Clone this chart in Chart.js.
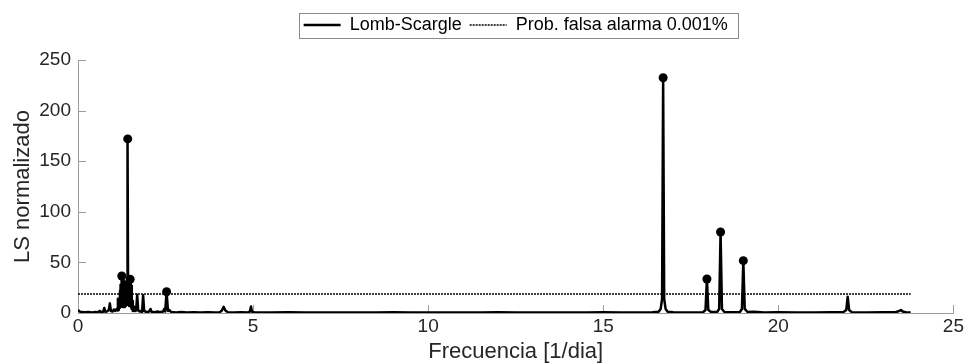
<!DOCTYPE html>
<html>
<head>
<meta charset="utf-8">
<script src="https://cdn.jsdelivr.net/npm/chart.js@4/dist/chart.umd.min.js"></script>
<style>
  html, body { margin: 0; padding: 0; background: #fff; }
  canvas { display: block; }
</style>
</head>
<body>
<canvas id="chart" width="966" height="363"></canvas>
<script>
// Normalised Lomb-Scargle periodogram (frequency in 1/dia)
const freq = [
  0.00, 0.04, 0.10, 0.20, 0.30, 0.40, 0.50, 0.58, 0.62, 0.66,
  0.72, 0.75, 0.78, 0.84, 0.88, 0.91, 0.94, 0.99, 1.02, 1.06,
  1.10, 1.13, 1.14, 1.15, 1.16, 1.17, 1.18, 1.19, 1.20, 1.21,
  1.22, 1.23, 1.24, 1.25, 1.26, 1.27, 1.28, 1.29, 1.30, 1.31,
  1.32, 1.33, 1.34, 1.35, 1.36, 1.37, 1.38, 1.39, 1.40, 1.41,
  1.42, 1.43, 1.44, 1.45, 1.46, 1.47, 1.48, 1.49, 1.50, 1.51,
  1.52, 1.53, 1.54, 1.55, 1.56, 1.57, 1.60, 1.62, 1.66, 1.69,
  1.72, 1.76, 1.80, 1.83, 1.86, 1.89, 1.94, 2.00, 2.04, 2.07,
  2.10, 2.18, 2.28, 2.34, 2.43, 2.46, 2.49, 2.53, 2.57, 2.61,
  2.66, 2.80, 2.95, 3.10, 3.30, 3.50, 3.70, 3.90, 4.05, 4.11,
  4.16, 4.21, 4.28, 4.45, 4.65, 4.85, 4.91, 4.94, 4.97, 5.05,
  5.50, 6.00, 6.50, 7.00, 7.50, 8.00, 8.50, 9.00, 9.50, 10.00,
  10.50, 11.00, 11.50, 12.00, 12.50, 13.00, 13.50, 14.00, 14.50, 15.00,
  15.50, 16.00, 16.40, 16.58, 16.64, 16.68, 16.71, 16.74, 16.78, 16.84,
  17.00, 17.40, 17.85, 17.92, 17.96, 18.00, 18.08, 18.25, 18.31, 18.35,
  18.39, 18.46, 18.70, 18.90, 18.96, 19.00, 19.04, 19.12, 19.30, 19.60,
  20.00, 20.50, 21.00, 21.50, 21.85, 21.94, 21.98, 22.02, 22.10, 22.50,
  23.00, 23.35, 23.45, 23.50, 23.55, 23.65, 23.78
];
const power = [
  3.0, 1.6, 0.9, 0.7, 0.9, 0.6, 1.0, 0.8, 2.2, 0.8,
  1.2, 5.0, 1.2, 1.8, 3.0, 9.5, 2.0, 1.5, 3.5, 2.0,
  4.0, 2.5, 14.0, 3.0, 13.0, 4.0, 14.0, 5.0, 22.0, 6.0,
  28.0, 8.0, 30.0, 36.6, 7.0, 31.0, 6.0, 30.0, 8.0, 32.0,
  6.0, 30.0, 9.0, 31.0, 7.0, 30.0, 8.0, 29.0, 10.0, 26.0,
  172.0, 24.0, 8.0, 30.0, 7.0, 31.0, 9.0, 33.3, 8.0, 29.0,
  6.0, 27.0, 4.0, 12.0, 3.0, 2.0, 6.0, 2.0, 2.5, 18.0,
  2.5, 1.5, 2.0, 1.0, 17.5, 2.0, 1.2, 0.8, 2.0, 4.0,
  1.2, 0.8, 1.5, 0.7, 1.5, 4.0, 1.5, 21.0, 2.0, 3.0,
  1.0, 0.6, 0.9, 0.5, 0.8, 0.5, 0.7, 0.6, 0.8, 2.5,
  6.0, 2.5, 0.8, 0.5, 0.7, 0.6, 1.5, 6.5, 1.2, 0.6,
  0.5, 0.7, 0.4, 0.6, 0.5, 0.6, 0.4, 0.7, 0.5, 0.6,
  0.4, 0.6, 0.5, 0.7, 0.4, 0.6, 0.5, 0.6, 0.5, 0.7,
  0.5, 0.6, 0.8, 1.2, 4.0, 14.0, 232.5, 14.0, 4.0, 1.2,
  0.8, 0.6, 0.8, 3.0, 33.6, 3.0, 1.0, 1.0, 4.0, 80.0,
  4.0, 1.0, 0.7, 1.0, 4.0, 51.7, 4.0, 1.0, 1.2, 0.6,
  0.7, 0.5, 0.6, 0.7, 0.8, 3.0, 16.0, 3.0, 0.8, 0.6,
  0.7, 0.8, 2.0, 3.0, 1.5, 0.6, 0.5
];

// Significant peaks (above the false-alarm level)
const peakFreq  = [1.25, 1.42, 1.49, 2.53, 16.71, 17.96, 18.35, 19.00];
const peakPower = [36.6, 172.0, 33.3, 21.0, 232.5, 33.6, 80.0, 51.7];

// False-alarm probability level and its frequency span
const alarmLevel = 18.8;
const alarmSpan = [0, 23.78];

const seriesNames = ['Lomb-Scargle', 'Prob. falsa alarma 0.001%'];
const xTicks = [0, 5, 10, 15, 20, 25];
const yTicks = [0, 50, 100, 150, 200, 250];

const axisGray = '#9c9c9c';
const labelColor = '#262626';
Chart.defaults.font.family = "'Liberation Sans', Arial, Helvetica, sans-serif";

const spectrum = freq.map((f, i) => ({ x: f, y: power[i] }));
const peaks = peakFreq.map((f, i) => ({ x: f, y: peakPower[i] }));
const alarmLine = alarmSpan.map(f => ({ x: f, y: alarmLevel }));

// Extra room between the legend and the plot area
const legendGap = {
  id: 'legendGap',
  afterInit(chart) {
    const legend = chart.legend;
    const fit = legend.fit;
    legend.fit = function () { fit.call(this); this.height += 16; };
  }
};

// Thin frame around the legend entries
const legendFrame = {
  id: 'legendFrame',
  afterDraw(chart) {
    const boxes = chart.legend && chart.legend.legendHitBoxes;
    if (!boxes || !boxes.length) return;
    const first = boxes[0], last = boxes[boxes.length - 1];
    const cy = first.top + first.height / 2;
    const left = Math.round(first.left - 5) + 0.5;
    const right = Math.round(last.left + last.width + 10) + 0.5;
    const top = Math.round(cy - 12.5) + 0.5;
    const ctx = chart.ctx;
    ctx.save();
    ctx.strokeStyle = '#8a8a8a';
    ctx.lineWidth = 1;
    ctx.strokeRect(left, top, right - left, 25);
    ctx.restore();
  }
};

// Tick marks pointing into the plot area
const inwardTicks = {
  id: 'inwardTicks',
  beforeDatasetsDraw(chart) {
    const { ctx, chartArea: a, scales: { x, y } } = chart;
    ctx.save();
    ctx.strokeStyle = axisGray;
    ctx.lineWidth = 1;
    ctx.beginPath();
    x.ticks.forEach(t => {
      const px = Math.round(x.getPixelForValue(t.value)) + 0.5;
      ctx.moveTo(px, a.bottom);
      ctx.lineTo(px, a.bottom - 8);
    });
    y.ticks.forEach(t => {
      const py = Math.round(y.getPixelForValue(t.value)) + 0.5;
      ctx.moveTo(a.left, py);
      ctx.lineTo(a.left + 8, py);
    });
    ctx.stroke();
    ctx.restore();
  }
};

new Chart(document.getElementById('chart'), {
  type: 'line',
  data: {
    datasets: [
      {
        label: seriesNames[0],
        data: spectrum,
        borderColor: '#000',
        backgroundColor: '#000',
        borderWidth: 2.5,
        borderJoinStyle: 'round',
        pointRadius: 0,
        tension: 0,
        order: 1
      },
      {
        label: seriesNames[1],
        data: alarmLine,
        borderColor: '#000',
        backgroundColor: '#000',
        borderWidth: 1.5,
        borderDash: [2, 1],
        pointRadius: 0,
        order: 2
      },
      {
        label: 'peaks',
        data: peaks,
        showLine: false,
        pointRadius: 4.5,
        pointBackgroundColor: '#000',
        pointBorderColor: '#000',
        pointBorderWidth: 0,
        order: 0
      }
    ]
  },
  options: {
    responsive: false,
    animation: false,
    devicePixelRatio: 1,
    layout: { padding: { top: 8, right: 3, bottom: 0, left: 0 } },
    plugins: {
      legend: {
        position: 'top',
        fullSize: false,
        labels: {
          usePointStyle: true,
          pointStyle: 'line',
          pointStyleWidth: 37,
          padding: 8,
          color: '#000',
          font: { size: 18 },
          generateLabels: chart => chart.data.datasets.slice(0, 2).map((ds, i) => ({
            text: ds.label,
            datasetIndex: i,
            hidden: false,
            fontColor: '#000',
            fillStyle: ds.borderColor,
            strokeStyle: ds.borderColor,
            lineWidth: ds.borderWidth,
            lineDash: ds.borderDash || [],
            lineCap: 'butt',
            pointStyle: 'line'
          }))
        }
      },
      tooltip: { enabled: false }
    },
    scales: {
      x: {
        type: 'linear',
        position: 'bottom',
        min: 0,
        max: 25,
        afterBuildTicks: s => { s.ticks = xTicks.map(v => ({ value: v })); },
        afterFit: s => { s.height = 50; },
        grid: { display: false, drawTicks: false },
        border: { display: true, color: axisGray, width: 1 },
        ticks: { padding: 2, color: labelColor, font: { size: 19 }, maxRotation: 0 },
        title: {
          display: true,
          text: 'Frecuencia [1/dia]',
          color: labelColor,
          font: { size: 22, lineHeight: 1 },
          padding: { top: 0, bottom: 0 }
        }
      },
      y: {
        type: 'linear',
        min: 0,
        max: 250,
        afterBuildTicks: s => { s.ticks = yTicks.map(v => ({ value: v })); },
        afterFit: s => { s.width = 78; },
        grid: { display: false, drawTicks: false },
        border: { display: true, color: axisGray, width: 1 },
        ticks: { padding: 7, color: labelColor, font: { size: 19 } },
        title: {
          display: true,
          text: 'LS normalizado',
          color: labelColor,
          font: { size: 22, lineHeight: 1.2 },
          padding: { top: 10, bottom: 0 }
        }
      }
    }
  },
  plugins: [legendGap, legendFrame, inwardTicks]
});
</script>
</body>
</html>
